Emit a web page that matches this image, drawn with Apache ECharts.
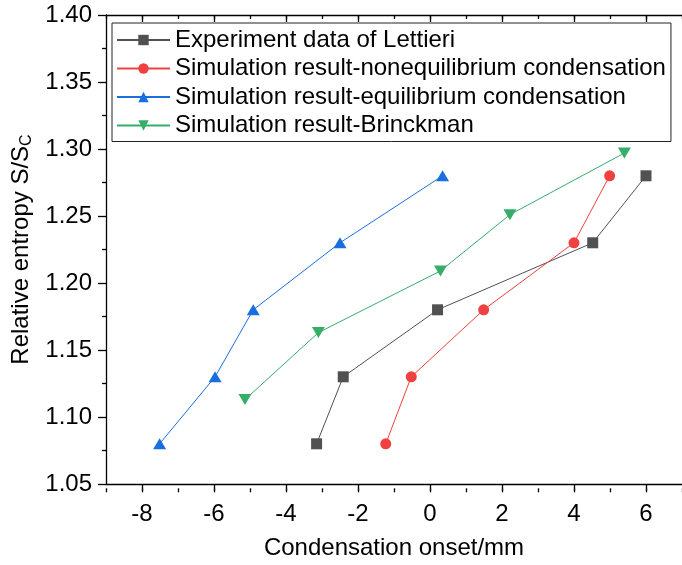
<!DOCTYPE html>
<html>
<head>
<meta charset="utf-8">
<script src="https://cdn.jsdelivr.net/npm/echarts@6/dist/echarts.min.js"></script>
<style>
html,body{margin:0;padding:0;background:#fff;}
#c{width:682px;height:565px;}
</style>
</head>
<body>
<div id="c"></div>
<script>
const seriesNames = [
  'Experiment data of Lettieri',
  'Simulation result-nonequilibrium condensation',
  'Simulation result-equilibrium condensation',
  'Simulation result-Brinckman'
];
const expX = [-3.15, -2.41, 0.21, 4.52, 6.00];
const expY = [1.08, 1.13, 1.18, 1.23, 1.28];
const nonX = [-1.23, -0.52, 1.49, 4.00, 4.99];
const nonY = [1.08, 1.13, 1.18, 1.23, 1.28];
const eqX = [-7.51, -5.97, -4.91, -2.50, 0.35];
const eqY = [1.08, 1.13, 1.18, 1.23, 1.28];
const brX = [-5.14, -3.10, 0.29, 2.22, 5.40];
const brY = [1.113, 1.163, 1.209, 1.251, 1.297];
const xMajorTicks = [-8, -6, -4, -2, 0, 2, 4, 6];

const FONT = 'Liberation Sans, Arial, sans-serif';
const FS = 24;
const colors = ['#515151', '#F14040', '#1A6FDF', '#37AD6B'];
const symbols = ['rect', 'circle', 'triangle', 'triangle'];
const rotates = [0, 0, 0, 180];
const sizes = [[11, 11], 11, [13, 11], [13, 11]];

function pairs(xs, ys) { return xs.map((x, i) => [x, ys[i]]); }
const allData = [pairs(expX, expY), pairs(nonX, nonY), pairs(eqX, eqY), pairs(brX, brY)];

const gridRect = { left: 106, top: 15, width: 584.5, height: 473.3 };
const chart = echarts.init(document.getElementById('c'), null, { renderer: 'canvas' });

const axisLineStyle = { color: '#000', width: 1.3 };

chart.setOption({
  animation: false,
  backgroundColor: '#fff',
  textStyle: { fontFamily: FONT },
  grid: [
    Object.assign({ containLabel: false }, gridRect),
    Object.assign({ containLabel: false }, gridRect)
  ],
  legend: {
    left: 112, top: 23,
    orient: 'vertical',
    itemWidth: 53, itemHeight: 13,
    itemGap: 2.5,
    padding: [4, 5, 3, 4],
    borderColor: '#222', borderWidth: 1,
    backgroundColor: '#fff',
    textStyle: { fontSize: FS, color: '#000', fontFamily: FONT, lineHeight: 26, padding: [0, 0, 0, 0] },
    data: seriesNames
  },
  xAxis: [
    {
      gridIndex: 0, type: 'value', position: 'bottom',
      min: -9, max: 7,
      name: 'Condensation onset/mm',
      nameLocation: 'middle', nameGap: 52,
      nameTextStyle: { fontSize: FS, color: '#000', fontFamily: FONT },
      axisLine: { show: true, onZero: false, lineStyle: axisLineStyle },
      axisTick: { show: true, inside: false, length: 7, customValues: xMajorTicks, lineStyle: axisLineStyle },
      axisLabel: { show: true, customValues: xMajorTicks, fontSize: FS, color: '#000', margin: 18, fontFamily: FONT },
      splitLine: { show: false }
    },
    {
      gridIndex: 0, type: 'value', position: 'top',
      min: -9, max: 7,
      axisLine: { show: true, onZero: false, lineStyle: axisLineStyle },
      axisTick: { show: true, inside: true, length: 7, customValues: xMajorTicks, lineStyle: axisLineStyle },
      axisLabel: { show: false },
      splitLine: { show: false }
    },
    {
      gridIndex: 1, type: 'value', position: 'bottom',
      min: -9, max: 7, interval: 1,
      axisLine: { show: false, onZero: false },
      axisTick: { show: true, inside: false, length: 4, lineStyle: axisLineStyle },
      axisLabel: { show: false },
      splitLine: { show: false }
    },
    {
      gridIndex: 1, type: 'value', position: 'top',
      min: -9, max: 7, interval: 1,
      axisLine: { show: false, onZero: false },
      axisTick: { show: true, inside: true, length: 4, lineStyle: axisLineStyle },
      axisLabel: { show: false },
      splitLine: { show: false }
    }
  ],
  yAxis: [
    {
      gridIndex: 0, type: 'value', position: 'left',
      min: 1.05, max: 1.40, interval: 0.05,
      name: 'Relative entropy S/S{sub|C}',
      nameLocation: 'middle', nameGap: 66, nameRotate: 90,
      nameTextStyle: {
        fontSize: FS, color: '#000', fontFamily: FONT,
        rich: { sub: { fontSize: 16, color: '#000', fontFamily: FONT, padding: [10, 0, 0, 0] } }
      },
      axisLine: { show: true, onZero: false, lineStyle: axisLineStyle },
      axisTick: { show: true, inside: false, length: 8, lineStyle: axisLineStyle },
      minorTick: { show: true, splitNumber: 2, length: 4, lineStyle: axisLineStyle },
      axisLabel: { fontSize: FS, color: '#000', margin: 14, fontFamily: FONT, formatter: v => v.toFixed(2) },
      splitLine: { show: false },
      minorSplitLine: { show: false }
    },
    {
      gridIndex: 1, type: 'value', min: 1.05, max: 1.40, show: false,
      axisLine: { show: false, onZero: false }
    }
  ],
  series: seriesNames.map((n, i) => ({
    name: n,
    type: 'line',
    xAxisIndex: 0, yAxisIndex: 0,
    data: allData[i],
    symbol: symbols[i],
    symbolSize: sizes[i],
    symbolRotate: rotates[i],
    showAllSymbol: true,
    color: colors[i],
    itemStyle: { color: colors[i], opacity: 1 },
    lineStyle: { color: colors[i], width: 1 },
    z: 2 + i
  }))
});
</script>
</body>
</html>
